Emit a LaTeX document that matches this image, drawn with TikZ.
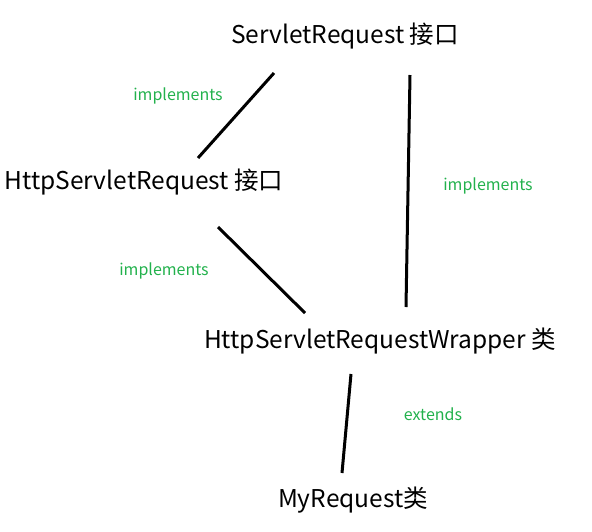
\documentclass[tikz,border=0pt]{standalone}
\usepackage{fontspec}
\setmainfont{Noto Sans CJK SC}
\usepackage{tikz}
\usetikzlibrary{positioning}
\usepackage{xcolor}
\definecolor{relgreen}{HTML}{22B14C}

\tikzset{
  iface/.style={font=\fontsize{24.5}{29}\selectfont, inner sep=0pt},
  rel/.style={font=\fontsize{16}{19}\selectfont, text=relgreen, inner sep=0pt},
  link/.style={line width=3pt, black}
}

\begin{document}
\begin{tikzpicture}[x=1pt,y=-1pt]
  \useasboundingbox (0,0) rectangle (592,531);

  % classes and interfaces
  \node[iface] (sr)   at (345,36)  {ServletRequest 接口};
  \node[iface] (hsr)  at (144,182) {HttpServletRequest 接口};
  \node[iface] (wrap) at (380,341) {HttpServletRequestWrapper 类};
  \node[iface] (mine) at (353,500) {MyRequest类};

  % line ends
  \coordinate (sr-l)   at (274,73);
  \coordinate (sr-r)   at (410,75);
  \coordinate (hsr-t)  at (198,158);
  \coordinate (hsr-b)  at (218,227);
  \coordinate (wrap-l) at (305,313);
  \coordinate (wrap-r) at (406,307);
  \coordinate (wrap-b) at (351,374);
  \coordinate (mine-t) at (342,473);

  % relations
  \draw[link] (sr-l) -- (hsr-t);
  \draw[link] (sr-r) -- (wrap-r);
  \draw[link] (hsr-b) -- (wrap-l);
  \draw[link] (wrap-b) -- (mine-t);

  % labels
  \node[rel] (l1) at (178,96)  {implements};
  \node[rel] (l2) at (488,186) {implements};
  \node[rel] (l3) at (164,271) {implements};
  \node[rel] (l4) at (433,414) {extends};
\end{tikzpicture}
\end{document}
